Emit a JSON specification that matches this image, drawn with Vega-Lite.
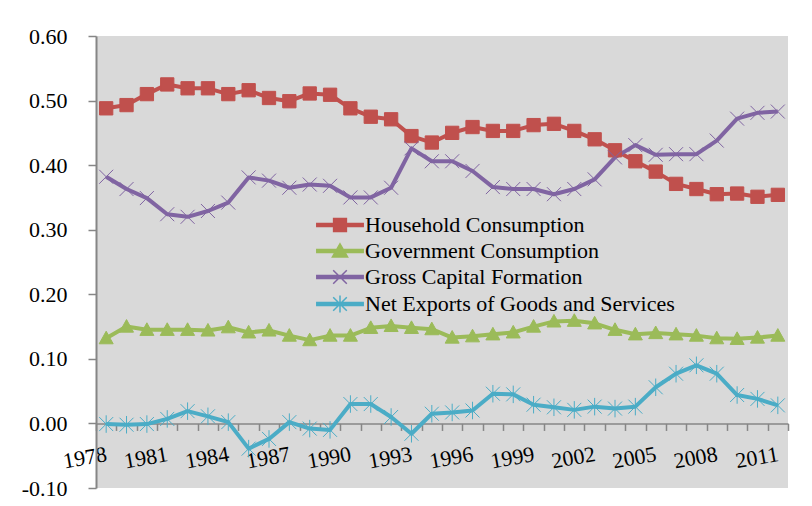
{
  "$schema": "https://vega.github.io/schema/vega-lite/v6.json",
  "width": 692,
  "height": 452,
  "autosize": {"type": "none"},
  "padding": {"left": 96, "top": 36, "right": 24, "bottom": 18},
  "background": "white",
  "config": {"view": {"fill": "#D9D9D9", "stroke": null}, "font": "Liberation Serif"},
  "data": {"values": [
    {"year":1978,"series":"Household Consumption","value":0.488},
    {"year":1979,"series":"Household Consumption","value":0.493},
    {"year":1980,"series":"Household Consumption","value":0.510},
    {"year":1981,"series":"Household Consumption","value":0.525},
    {"year":1982,"series":"Household Consumption","value":0.519},
    {"year":1983,"series":"Household Consumption","value":0.519},
    {"year":1984,"series":"Household Consumption","value":0.510},
    {"year":1985,"series":"Household Consumption","value":0.516},
    {"year":1986,"series":"Household Consumption","value":0.504},
    {"year":1987,"series":"Household Consumption","value":0.499},
    {"year":1988,"series":"Household Consumption","value":0.511},
    {"year":1989,"series":"Household Consumption","value":0.509},
    {"year":1990,"series":"Household Consumption","value":0.488},
    {"year":1991,"series":"Household Consumption","value":0.475},
    {"year":1992,"series":"Household Consumption","value":0.471},
    {"year":1993,"series":"Household Consumption","value":0.445},
    {"year":1994,"series":"Household Consumption","value":0.435},
    {"year":1995,"series":"Household Consumption","value":0.450},
    {"year":1996,"series":"Household Consumption","value":0.459},
    {"year":1997,"series":"Household Consumption","value":0.453},
    {"year":1998,"series":"Household Consumption","value":0.453},
    {"year":1999,"series":"Household Consumption","value":0.462},
    {"year":2000,"series":"Household Consumption","value":0.464},
    {"year":2001,"series":"Household Consumption","value":0.453},
    {"year":2002,"series":"Household Consumption","value":0.440},
    {"year":2003,"series":"Household Consumption","value":0.423},
    {"year":2004,"series":"Household Consumption","value":0.406},
    {"year":2005,"series":"Household Consumption","value":0.390},
    {"year":2006,"series":"Household Consumption","value":0.371},
    {"year":2007,"series":"Household Consumption","value":0.363},
    {"year":2008,"series":"Household Consumption","value":0.355},
    {"year":2009,"series":"Household Consumption","value":0.356},
    {"year":2010,"series":"Household Consumption","value":0.351},
    {"year":2011,"series":"Household Consumption","value":0.354},
    {"year":1978,"series":"Government Consumption","value":0.132},
    {"year":1979,"series":"Government Consumption","value":0.150},
    {"year":1980,"series":"Government Consumption","value":0.145},
    {"year":1981,"series":"Government Consumption","value":0.145},
    {"year":1982,"series":"Government Consumption","value":0.145},
    {"year":1983,"series":"Government Consumption","value":0.144},
    {"year":1984,"series":"Government Consumption","value":0.149},
    {"year":1985,"series":"Government Consumption","value":0.141},
    {"year":1986,"series":"Government Consumption","value":0.144},
    {"year":1987,"series":"Government Consumption","value":0.136},
    {"year":1988,"series":"Government Consumption","value":0.129},
    {"year":1989,"series":"Government Consumption","value":0.136},
    {"year":1990,"series":"Government Consumption","value":0.136},
    {"year":1991,"series":"Government Consumption","value":0.148},
    {"year":1992,"series":"Government Consumption","value":0.151},
    {"year":1993,"series":"Government Consumption","value":0.148},
    {"year":1994,"series":"Government Consumption","value":0.146},
    {"year":1995,"series":"Government Consumption","value":0.133},
    {"year":1996,"series":"Government Consumption","value":0.135},
    {"year":1997,"series":"Government Consumption","value":0.138},
    {"year":1998,"series":"Government Consumption","value":0.141},
    {"year":1999,"series":"Government Consumption","value":0.150},
    {"year":2000,"series":"Government Consumption","value":0.158},
    {"year":2001,"series":"Government Consumption","value":0.159},
    {"year":2002,"series":"Government Consumption","value":0.155},
    {"year":2003,"series":"Government Consumption","value":0.145},
    {"year":2004,"series":"Government Consumption","value":0.138},
    {"year":2005,"series":"Government Consumption","value":0.140},
    {"year":2006,"series":"Government Consumption","value":0.138},
    {"year":2007,"series":"Government Consumption","value":0.136},
    {"year":2008,"series":"Government Consumption","value":0.132},
    {"year":2009,"series":"Government Consumption","value":0.131},
    {"year":2010,"series":"Government Consumption","value":0.133},
    {"year":2011,"series":"Government Consumption","value":0.136},
    {"year":1978,"series":"Gross Capital Formation","value":0.382},
    {"year":1979,"series":"Gross Capital Formation","value":0.363},
    {"year":1980,"series":"Gross Capital Formation","value":0.349},
    {"year":1981,"series":"Gross Capital Formation","value":0.324},
    {"year":1982,"series":"Gross Capital Formation","value":0.320},
    {"year":1983,"series":"Gross Capital Formation","value":0.329},
    {"year":1984,"series":"Gross Capital Formation","value":0.342},
    {"year":1985,"series":"Gross Capital Formation","value":0.381},
    {"year":1986,"series":"Gross Capital Formation","value":0.376},
    {"year":1987,"series":"Gross Capital Formation","value":0.365},
    {"year":1988,"series":"Gross Capital Formation","value":0.370},
    {"year":1989,"series":"Gross Capital Formation","value":0.368},
    {"year":1990,"series":"Gross Capital Formation","value":0.350},
    {"year":1991,"series":"Gross Capital Formation","value":0.350},
    {"year":1992,"series":"Gross Capital Formation","value":0.365},
    {"year":1993,"series":"Gross Capital Formation","value":0.426},
    {"year":1994,"series":"Gross Capital Formation","value":0.406},
    {"year":1995,"series":"Gross Capital Formation","value":0.406},
    {"year":1996,"series":"Gross Capital Formation","value":0.391},
    {"year":1997,"series":"Gross Capital Formation","value":0.366},
    {"year":1998,"series":"Gross Capital Formation","value":0.363},
    {"year":1999,"series":"Gross Capital Formation","value":0.363},
    {"year":2000,"series":"Gross Capital Formation","value":0.355},
    {"year":2001,"series":"Gross Capital Formation","value":0.363},
    {"year":2002,"series":"Gross Capital Formation","value":0.378},
    {"year":2003,"series":"Gross Capital Formation","value":0.412},
    {"year":2004,"series":"Gross Capital Formation","value":0.431},
    {"year":2005,"series":"Gross Capital Formation","value":0.416},
    {"year":2006,"series":"Gross Capital Formation","value":0.417},
    {"year":2007,"series":"Gross Capital Formation","value":0.417},
    {"year":2008,"series":"Gross Capital Formation","value":0.438},
    {"year":2009,"series":"Gross Capital Formation","value":0.472},
    {"year":2010,"series":"Gross Capital Formation","value":0.481},
    {"year":2011,"series":"Gross Capital Formation","value":0.483},
    {"year":1978,"series":"Net Exports of Goods and Services","value":-0.001},
    {"year":1979,"series":"Net Exports of Goods and Services","value":-0.002},
    {"year":1980,"series":"Net Exports of Goods and Services","value":-0.001},
    {"year":1981,"series":"Net Exports of Goods and Services","value":0.007},
    {"year":1982,"series":"Net Exports of Goods and Services","value":0.019},
    {"year":1983,"series":"Net Exports of Goods and Services","value":0.011},
    {"year":1984,"series":"Net Exports of Goods and Services","value":0.002},
    {"year":1985,"series":"Net Exports of Goods and Services","value":-0.039},
    {"year":1986,"series":"Net Exports of Goods and Services","value":-0.024},
    {"year":1987,"series":"Net Exports of Goods and Services","value":0.002},
    {"year":1988,"series":"Net Exports of Goods and Services","value":-0.008},
    {"year":1989,"series":"Net Exports of Goods and Services","value":-0.010},
    {"year":1990,"series":"Net Exports of Goods and Services","value":0.030},
    {"year":1991,"series":"Net Exports of Goods and Services","value":0.030},
    {"year":1992,"series":"Net Exports of Goods and Services","value":0.010},
    {"year":1993,"series":"Net Exports of Goods and Services","value":-0.016},
    {"year":1994,"series":"Net Exports of Goods and Services","value":0.015},
    {"year":1995,"series":"Net Exports of Goods and Services","value":0.017},
    {"year":1996,"series":"Net Exports of Goods and Services","value":0.020},
    {"year":1997,"series":"Net Exports of Goods and Services","value":0.046},
    {"year":1998,"series":"Net Exports of Goods and Services","value":0.045},
    {"year":1999,"series":"Net Exports of Goods and Services","value":0.029},
    {"year":2000,"series":"Net Exports of Goods and Services","value":0.025},
    {"year":2001,"series":"Net Exports of Goods and Services","value":0.021},
    {"year":2002,"series":"Net Exports of Goods and Services","value":0.026},
    {"year":2003,"series":"Net Exports of Goods and Services","value":0.023},
    {"year":2004,"series":"Net Exports of Goods and Services","value":0.026},
    {"year":2005,"series":"Net Exports of Goods and Services","value":0.056},
    {"year":2006,"series":"Net Exports of Goods and Services","value":0.077},
    {"year":2007,"series":"Net Exports of Goods and Services","value":0.090},
    {"year":2008,"series":"Net Exports of Goods and Services","value":0.077},
    {"year":2009,"series":"Net Exports of Goods and Services","value":0.044},
    {"year":2010,"series":"Net Exports of Goods and Services","value":0.038},
    {"year":2011,"series":"Net Exports of Goods and Services","value":0.028}
  ]},
  "encoding": {
    "x": {
      "field": "year", "type": "ordinal", "bandPosition": 0.5,
      "scale": {"type": "band", "paddingInner": 0, "paddingOuter": 0},
      "axis": {
        "title": null, "offset": -64.57, "tickBand": "extent", "grid": false,
        "labelExpr": "(+datum.value - 1978) % 3 == 0 ? datum.label : ''",
        "labelAngle": -10, "labelAlign": "right", "labelBaseline": "middle",
        "labelPadding": 23, "labelFontSize": 22, "labelFont": "Liberation Serif",
        "labelColor": "black", "labelOverlap": false, "labelBound": false, "labelFlush": false,
        "tickSize": 7, "tickColor": "#868686", "domainColor": "#868686", "domainWidth": 1.5, "tickWidth": 1.5
      }
    },
    "y": {
      "field": "value", "type": "quantitative",
      "scale": {"domain": [-0.1, 0.6], "nice": false, "zero": false},
      "axis": {
        "title": null, "values": [-0.1, 0, 0.1, 0.2, 0.3, 0.4, 0.5, 0.6], "grid": false,
        "labelExpr": "datum.value < -0.0001 ? '-' + format(-datum.value, '.2f') : format(abs(datum.value), '.2f')",
        "labelFontSize": 22, "labelFont": "Liberation Serif", "labelColor": "black", "labelPadding": 21,
        "tickSize": 8, "tickColor": "#868686", "domainColor": "#868686", "domainWidth": 2, "tickWidth": 1.5
      }
    }
  },
  "layer": [
    {
      "mark": {"type": "line", "strokeWidth": 4, "strokeJoin": "round", "interpolate": "linear"},
      "encoding": {
        "color": {
          "field": "series", "type": "nominal",
          "scale": {
            "domain": ["Household Consumption", "Government Consumption", "Gross Capital Formation", "Net Exports of Goods and Services"],
            "range": ["#C0504D", "#9BBB59", "#8064A2", "#4BACC6"]
          },
          "legend": {
            "orient": "none", "legendX": 233, "legendY": 178, "title": null, "padding": 0,
            "labelFont": "Liberation Serif", "labelFontSize": 22, "labelColor": "black", "labelLimit": 0,
            "symbolSize": 256, "labelOffset": 14, "rowPadding": 4
          }
        }
      }
    },
    {
      "transform": [{"filter": "datum.series === 'Household Consumption'"}],
      "mark": {"type": "point", "filled": true, "size": 196, "strokeWidth": 1, "opacity": 1, "shape": "M-0.95,-0.95H0.95V0.95H-0.95Z", "fill": "#C0504D", "stroke": "#C0504D"}
    },
    {
      "transform": [{"filter": "datum.series === 'Government Consumption'"}],
      "mark": {"type": "point", "filled": true, "size": 196, "strokeWidth": 1, "opacity": 1, "shape": "M0,-1L1,0.8H-1Z", "fill": "#9BBB59", "stroke": "#9BBB59"}
    },
    {
      "transform": [{"filter": "datum.series === 'Gross Capital Formation'"}],
      "mark": {"type": "point", "filled": true, "size": 196, "strokeWidth": 1, "opacity": 1, "shape": "M-1,-1L1,1M-1,1L1,-1", "fill": "#8064A2", "stroke": "#8064A2"}
    },
    {
      "transform": [{"filter": "datum.series === 'Net Exports of Goods and Services'"}],
      "mark": {"type": "point", "filled": true, "size": 196, "strokeWidth": 1, "opacity": 1, "shape": "M-1,-1L1,1M-1,1L1,-1M0,-1.25V1.25", "fill": "#4BACC6", "stroke": "#4BACC6"}
    },
    {
      "transform": [{"filter": "datum.year < 0"}],
      "mark": {"type": "point", "filled": true, "strokeWidth": 1, "opacity": 1},
      "encoding": {
        "color": {
          "field": "series", "type": "nominal",
          "scale": {
            "domain": ["Household Consumption", "Government Consumption", "Gross Capital Formation", "Net Exports of Goods and Services"],
            "range": ["#C0504D", "#9BBB59", "#8064A2", "#4BACC6"]
          },
          "legend": {
            "orient": "none", "legendX": 233, "legendY": 178, "title": null, "padding": 0,
            "labelFont": "Liberation Serif", "labelFontSize": 22, "labelColor": "black", "labelLimit": 0,
            "symbolSize": 256, "labelOffset": 14, "rowPadding": 4
          }
        },
        "shape": {
          "field": "series", "type": "nominal",
          "scale": {
            "domain": ["Household Consumption", "Government Consumption", "Gross Capital Formation", "Net Exports of Goods and Services"],
            "range": [
              "M-2.9,-0.2H2.9V0.2H-2.9Z M-0.8,-0.8H0.8V0.8H-0.8Z",
              "M-2.9,-0.2H2.9V0.2H-2.9Z M0,-0.9L0.95,0.75H-0.95Z",
              "M-2.9,-0.2H2.9V0.2H-2.9Z M-0.85,-0.85L0.85,0.85M-0.85,0.85L0.85,-0.85",
              "M-2.9,-0.2H2.9V0.2H-2.9Z M-0.85,-0.85L0.85,0.85M-0.85,0.85L0.85,-0.85M0,-1.05V1.05"
            ]
          },
          "legend": {
            "orient": "none", "legendX": 233, "legendY": 178, "title": null, "padding": 0,
            "labelFont": "Liberation Serif", "labelFontSize": 22, "labelColor": "black", "labelLimit": 0,
            "symbolSize": 256, "labelOffset": 14, "rowPadding": 4
          }
        },
        "stroke": {
          "field": "series", "type": "nominal",
          "scale": {
            "domain": ["Household Consumption", "Government Consumption", "Gross Capital Formation", "Net Exports of Goods and Services"],
            "range": ["#C0504D", "#9BBB59", "#8064A2", "#4BACC6"]
          },
          "legend": {
            "orient": "none", "legendX": 233, "legendY": 178, "title": null, "padding": 0,
            "labelFont": "Liberation Serif", "labelFontSize": 22, "labelColor": "black", "labelLimit": 0,
            "symbolSize": 256, "labelOffset": 14, "rowPadding": 4
          }
        }
      }
    }
  ]
}
